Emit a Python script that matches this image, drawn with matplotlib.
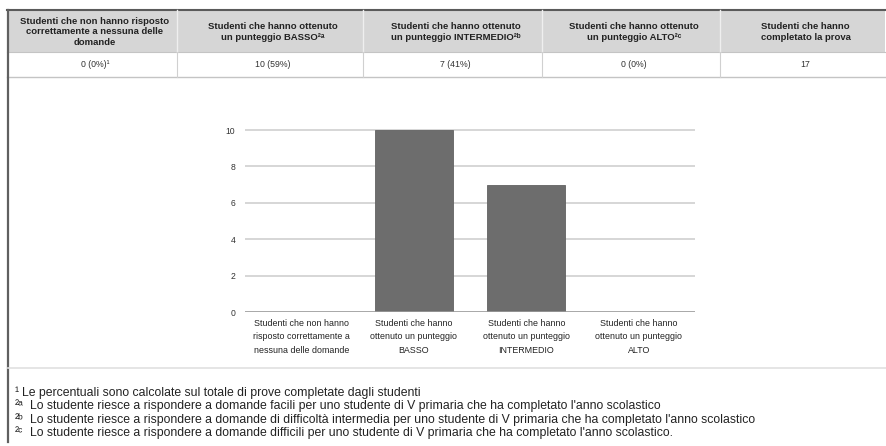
import matplotlib
matplotlib.use("Agg")
import matplotlib.pyplot as plt
from matplotlib.patches import Rectangle
from matplotlib.lines import Line2D

FONT = ["Liberation Sans", "DejaVu Sans"]
plt.rcParams["font.family"] = FONT

# --- data -------------------------------------------------------------
categories = [
    "Studenti che non hanno\nrisposto correttamente a\nnessuna delle domande",
    "Studenti che hanno\nottenuto un punteggio\nBASSO",
    "Studenti che hanno\nottenuto un punteggio\nINTERMEDIO",
    "Studenti che hanno\nottenuto un punteggio\nALTO",
]
counts = [0, 10, 7, 0]
total_completed = 17

table_headers = [
    "Studenti che non hanno risposto\ncorrettamente a nessuna delle\ndomande",
    "Studenti che hanno ottenuto\nun punteggio BASSO²ᵃ",
    "Studenti che hanno ottenuto\nun punteggio INTERMEDIO²ᵇ",
    "Studenti che hanno ottenuto\nun punteggio ALTO²ᶜ",
    "Studenti che hanno\ncompletato la prova",
]
cell_marks = ["¹", "", "", "", ""]

footnotes = [
    ("¹", "Le percentuali sono calcolate sul totale di prove completate dagli studenti"),
    ("²ᵃ", "Lo studente riesce a rispondere a domande facili per uno studente di V primaria che ha completato l'anno scolastico"),
    ("²ᵇ", "Lo studente riesce a rispondere a domande di difficoltà intermedia per uno studente di V primaria che ha completato l'anno scolastico"),
    ("²ᶜ", "Lo studente riesce a rispondere a domande difficili per uno studente di V primaria che ha completato l'anno scolastico."),
]
y_ticks = [0, 2, 4, 6, 8, 10]

# --- figure -------------------------------------------------------------
W, H = 886, 446
fig = plt.figure(figsize=(W / 100, H / 100), dpi=100)
fig.patch.set_facecolor("white")

# pixel-space overlay for the table, frame and notes
bg = fig.add_axes([0, 0, 1, 1])
bg.set_xlim(0, W)
bg.set_ylim(H, 0)
bg.axis("off")

col_edges = [7, 177, 363, 542, 720, 885]
top, head_bot, row_bot = 10, 52, 77

bg.add_patch(Rectangle((col_edges[0], top), col_edges[-1] - col_edges[0], head_bot - top,
                       facecolor="#d6d6d6", edgecolor="none"))
bg.add_line(Line2D([col_edges[0], col_edges[-1]], [top, top], color="#5a5a5a", lw=1.5))
bg.add_line(Line2D([col_edges[0], col_edges[-1]], [head_bot, head_bot], color="#c4c4c4", lw=0.8))
bg.add_line(Line2D([col_edges[0], col_edges[-1]], [row_bot, row_bot], color="#c4c4c4", lw=1.0))
for x in col_edges[1:-1]:
    bg.add_line(Line2D([x, x], [top, head_bot], color="#efefef", lw=1.0))
    bg.add_line(Line2D([x, x], [head_bot, row_bot], color="#d0d0d0", lw=0.8))

# cell values derived from the counts
values = [f"{c} ({round(100 * c / total_completed)}%)" for c in counts]
values = [v + m for v, m in zip(values, cell_marks)] + [str(total_completed)]

for i, (hdr, val) in enumerate(zip(table_headers, values)):
    cx = (col_edges[i] + col_edges[i + 1]) / 2 + 3
    bg.text(cx, 32, hdr, ha="center", va="center",
            fontsize=6.8, fontweight="bold", color="#222222", linespacing=1.22)
    bg.text(cx, (head_bot + row_bot) / 2, val, ha="center", va="center",
            fontsize=6.3, color="#333333")

# left frame line and separator above the notes
bg.add_line(Line2D([8, 8], [top, 442], color="#606060", lw=1.6))
bg.add_line(Line2D([8, W], [368, 368], color="#e0e0e0", lw=1.2))

for j, (sup, note) in enumerate(footnotes):
    base = 396 + j * 13.4
    bg.text(15, base, sup, ha="left", va="baseline", fontsize=8.8, color="#222222")
    bg.text(22 if sup == "¹" else 30, base, note, ha="left", va="baseline",
            fontsize=8.8, color="#222222")

# --- bar chart ----------------------------------------------------------
px_unit = 18.2
y_top = 10.5
ax_left, ax_right, ax_zero = 245, 695, 312
ax = fig.add_axes([ax_left / W, (H - ax_zero) / H, (ax_right - ax_left) / W,
                   y_top * px_unit / H])
x = list(range(len(categories)))
ax.bar(x, counts, width=0.69, color="#6d6d6d", edgecolor="#626262", linewidth=0.6, zorder=3)
ax.set_xlim(-0.5, len(categories) - 0.5)
ax.set_ylim(0, y_top)
ax.set_yticks(y_ticks)
ax.set_yticklabels([str(t) for t in y_ticks])
for t in y_ticks[1:]:
    ax.axhline(t, color="#cbcbcb", lw=1.1, zorder=1)
ax.axhline(0, color="#9a9a9a", lw=1.2, zorder=4)
ax.set_xticks(x)
ax.set_xticklabels(categories, fontsize=6.4, color="#222222", linespacing=1.62)
ax.tick_params(axis="y", length=0, pad=7, labelsize=6.2, labelcolor="#333333")
ax.tick_params(axis="x", length=0, pad=5)
for s in ax.spines.values():
    s.set_visible(False)
ax.patch.set_alpha(0)

fig.savefig("out.png", dpi=100, facecolor="white")
